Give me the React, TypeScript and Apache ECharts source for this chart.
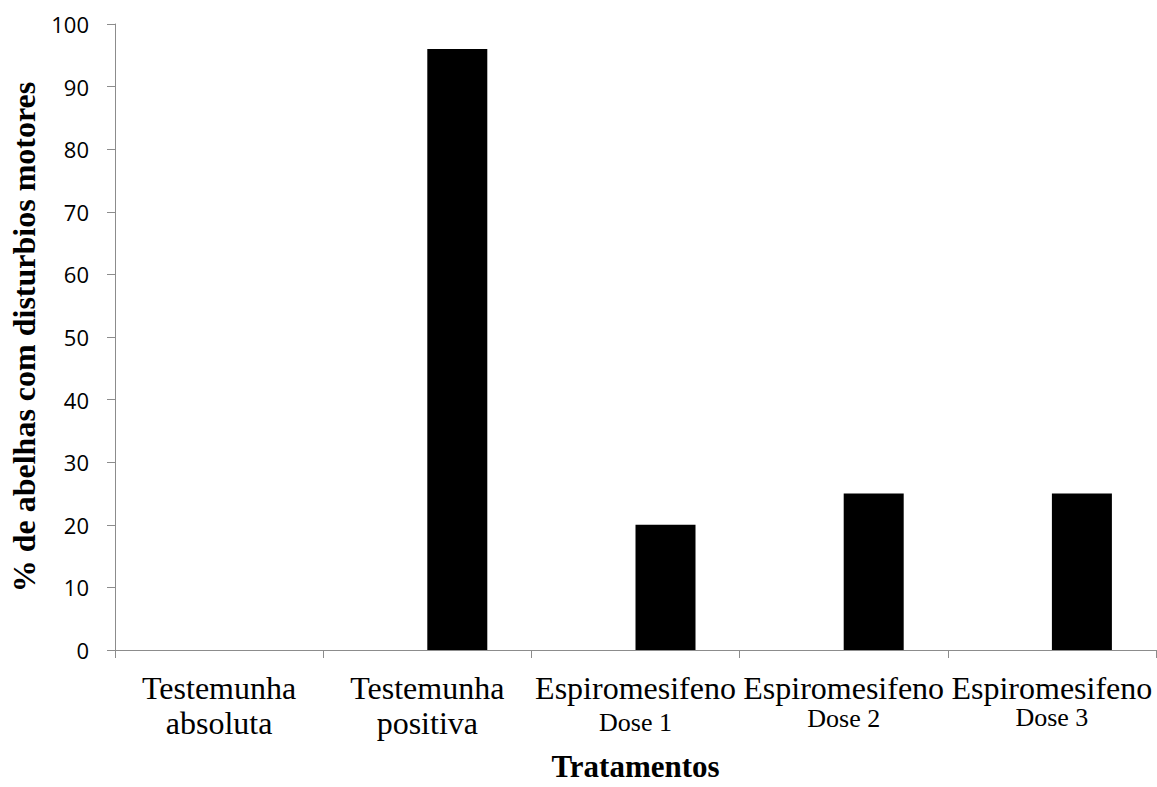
import React, { useEffect, useRef } from "react";
import * as echarts from "echarts";

const categories = [
  "{a|Testemunha}\n{a|absoluta}",
  "{a|Testemunha}\n{a|positiva}",
  "{a|Espiromesifeno}\n{d1|Dose 1}",
  "{a|Espiromesifeno}\n{d2|Dose 2}",
  "{a|Espiromesifeno}\n{d3|Dose 3}",
];
const values = [0, 96, 20, 25, 25];
const placeholder = [null, null, null, null, null];
const yTicks = { min: 0, max: 100, interval: 10 };
const xTitle = "Tratamentos";
const yTitle = "% de abelhas com disturbios motores";

export default function App() {
  const ref = useRef<HTMLDivElement>(null);
  useEffect(() => {
    if (!ref.current) return;
    const chart = echarts.init(ref.current, undefined, { renderer: "svg" });
    const serif = "'Liberation Serif', 'Times New Roman', serif";
    const axisColor = "#8c8c8c";
    chart.setOption({
      animation: false,
      backgroundColor: "#ffffff",
      grid: { left: 115, right: 1, top: 24, bottom: 132, containLabel: false },
      xAxis: {
        type: "category",
        data: categories,
        boundaryGap: true,
        name: xTitle,
        nameLocation: "middle",
        nameGap: 101,
        nameTextStyle: { fontFamily: serif, fontSize: 31, fontWeight: "bold", color: "#000" },
        axisLine: { show: true, lineStyle: { color: axisColor, width: 1 } },
        axisTick: { show: true, length: 8, lineStyle: { color: axisColor } },
        axisLabel: {
          interval: 0,
          margin: 20,
          color: "#000",
          fontFamily: serif,
          rich: {
            a: { fontFamily: serif, fontSize: 32, lineHeight: 35, color: "#000" },
            d1: { fontFamily: serif, fontSize: 26, lineHeight: 35, color: "#000" },
            d2: { fontFamily: serif, fontSize: 26, lineHeight: 27, color: "#000" },
            d3: { fontFamily: serif, fontSize: 26, lineHeight: 25, color: "#000" },
          },
        },
      },
      yAxis: {
        type: "value",
        min: yTicks.min,
        max: yTicks.max,
        interval: yTicks.interval,
        name: yTitle,
        nameLocation: "middle",
        nameGap: 73,
        nameTextStyle: { fontFamily: serif, fontSize: 32, fontWeight: "bold", color: "#000" },
        axisLine: { show: true, lineStyle: { color: axisColor, width: 1 } },
        axisTick: { show: true, length: 8, lineStyle: { color: axisColor } },
        splitLine: { show: false },
        axisLabel: {
          margin: 26,
          color: "#000",
          fontFamily: "'Open Sans', 'Liberation Sans', sans-serif",
          fontSize: 22,
        },
      },
      series: [
        {
          type: "bar",
          name: "placeholder",
          data: placeholder,
          barWidth: 60,
          barGap: 0,
          silent: true,
          itemStyle: { color: "transparent" },
        },
        {
          type: "bar",
          name: "valores",
          data: values,
          barWidth: 60,
          barGap: 0,
          itemStyle: { color: "#000000" },
        },
      ],
    });
    return () => chart.dispose();
  }, []);
  return (
    <div
      ref={ref}
      style={{ position: "fixed", left: 0, top: 0, width: 1157, height: 787, background: "#fff" }}
    />
  );
}
